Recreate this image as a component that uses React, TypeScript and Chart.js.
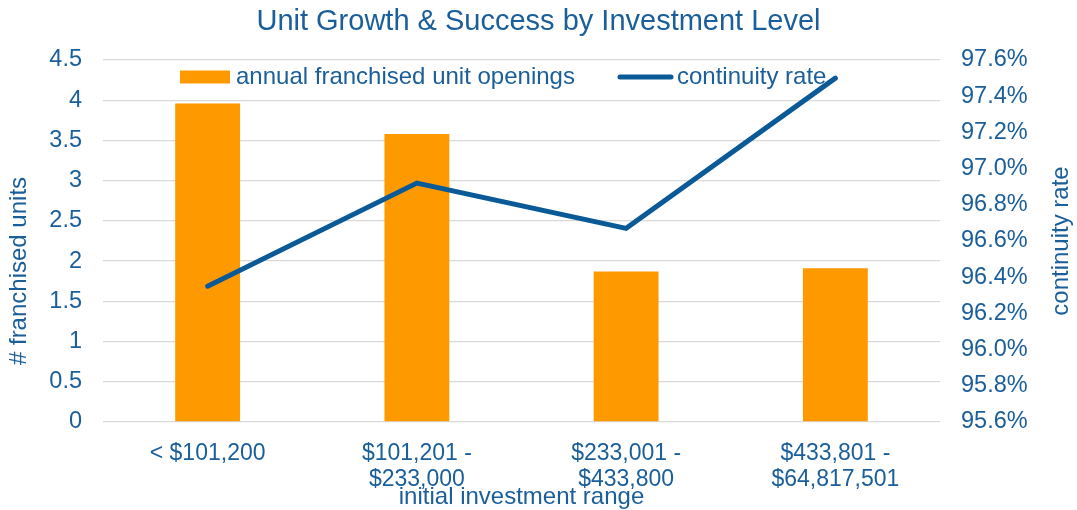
import React, { useEffect, useRef } from "react";
import { Chart, registerables } from "chart.js";

Chart.register(...registerables);

const chartTitle = "Unit Growth & Success by Investment Level";
const categories = [
  ["< $101,200"],
  ["$101,201 -", "$233,000"],
  ["$233,001 -", "$433,800"],
  ["$433,801 -", "$64,817,501"],
];
const unitOpenings = [3.96, 3.58, 1.87, 1.91];
const continuityRate = [96.35, 96.92, 96.67, 97.5];
const barLabel = "annual franchised unit openings";
const lineLabel = "continuity rate";
const leftAxisTitle = "# franchised units";
const rightAxisTitle = "continuity rate";
const xAxisTitle = "initial investment range";
const leftMin = 0, leftMax = 4.5, leftStep = 0.5;
const rightMin = 95.6, rightMax = 97.6, rightStep = 0.2;

const FONT = "'Liberation Sans', Arial, sans-serif";
const TEXT = "#1A5E9A";
const LINE = "#0B5A98";
const ORANGE = "#FF9900";
const GRID = "#D9D9D9";

const overlayPlugin = {
  id: "overlay",
  afterDraw(chart: any) {
    const { ctx, chartArea } = chart;
    ctx.save();
    ctx.font = `24px ${FONT}`;
    ctx.fillStyle = TEXT;
    ctx.textBaseline = "middle";
    ctx.textAlign = "left";
    // legend
    const ly = chartArea.top + 17;
    let x = chartArea.left + 77;
    ctx.fillStyle = ORANGE;
    ctx.fillRect(x, ly - 6.5, 50, 13);
    ctx.fillStyle = TEXT;
    ctx.fillText(barLabel, x + 56, ly);
    x = chartArea.left + 515;
    ctx.strokeStyle = LINE;
    ctx.lineWidth = 5;
    ctx.lineCap = "round";
    ctx.beginPath();
    ctx.moveTo(x + 2, ly);
    ctx.lineTo(x + 53, ly);
    ctx.stroke();
    ctx.fillText(lineLabel, x + 59, ly);
    // y axis titles (rotated -90)
    ctx.textAlign = "center";
    ctx.save();
    ctx.translate(19, chartArea.top + (chartArea.bottom - chartArea.top) / 2 + 30);
    ctx.rotate(-Math.PI / 2);
    ctx.fillText(leftAxisTitle, 0, 0);
    ctx.restore();
    ctx.save();
    ctx.translate(1061, chartArea.top + (chartArea.bottom - chartArea.top) / 2);
    ctx.rotate(-Math.PI / 2);
    ctx.fillText(rightAxisTitle, 0, 0);
    ctx.restore();
    ctx.restore();
  },
};

export default function App() {
  const ref = useRef<HTMLCanvasElement | null>(null);
  useEffect(() => {
    if (!ref.current) return;
    const chart = new Chart(ref.current, {
      type: "bar",
      data: {
        labels: categories as any,
        datasets: [
          {
            type: "line",
            label: lineLabel,
            data: continuityRate,
            yAxisID: "y1",
            borderColor: LINE,
            backgroundColor: LINE,
            borderWidth: 5,
            pointRadius: 0,
            tension: 0,
            borderCapStyle: "round",
            borderJoinStyle: "miter",
            order: 0,
          } as any,
          {
            type: "bar",
            label: barLabel,
            data: unitOpenings,
            yAxisID: "y",
            backgroundColor: ORANGE,
            borderWidth: 0,
            categoryPercentage: 1,
            barPercentage: 0.31,
            order: 1,
          },
        ],
      },
      options: {
        responsive: false,
        animation: false,
        layout: { padding: { left: 0, right: 0, top: 0, bottom: 0 } },
        plugins: {
          legend: { display: false },
          tooltip: { enabled: false },
          title: {
            display: true,
            text: chartTitle,
            color: TEXT,
            font: { family: FONT, size: 29, weight: "normal", lineHeight: 1.2 },
            padding: { top: 5, bottom: 20.2 },
          },
        },
        scales: {
          x: {
            grid: { display: false },
            border: { display: false },
            ticks: {
              color: TEXT,
              font: { family: FONT, size: 23, lineHeight: 1.1 },
              padding: 11.5,
              maxRotation: 0,
              autoSkip: false,
            },
            title: {
              display: true,
              text: xAxisTitle,
              color: TEXT,
              font: { family: FONT, size: 24, lineHeight: 1 },
              padding: { top: 0, bottom: 1 },
            },
            afterFit(scale: any) {
              scale.height = 88;
            },
          },
          y: {
            position: "left",
            min: leftMin,
            max: leftMax,
            grid: { color: GRID, lineWidth: 1.3, drawTicks: false },
            border: { display: false },
            ticks: {
              stepSize: leftStep,
              color: TEXT,
              font: { family: FONT, size: 23.5 },
              padding: 21,
              callback: (v: any) => String(parseFloat(Number(v).toFixed(1))),
            },
            afterFit(scale: any) {
              scale.width = 103;
            },
          },
          y1: {
            position: "right",
            min: rightMin,
            max: rightMax,
            grid: { display: false, drawTicks: false },
            border: { display: false },
            ticks: {
              stepSize: rightStep,
              color: TEXT,
              font: { family: FONT, size: 23.5 },
              padding: 21,
              callback: (v: any) => Number(v).toFixed(1) + "%",
            },
            afterFit(scale: any) {
              scale.width = 137;
            },
          },
        },
      },
      plugins: [overlayPlugin],
    });
    return () => chart.destroy();
  }, []);
  return (
    <div style={{ position: "absolute", left: 0, top: 0, width: 1077, height: 510, background: "#fff" }}>
      <canvas ref={ref} width={1077} height={510} style={{ display: "block" }} />
    </div>
  );
}
